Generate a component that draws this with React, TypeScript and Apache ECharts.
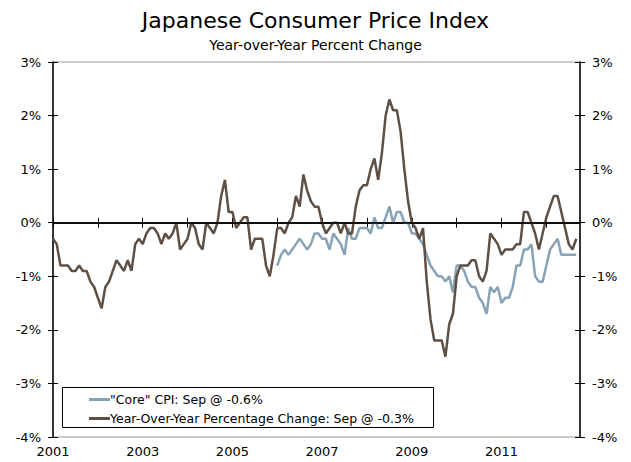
import React, { useEffect, useRef } from "react";
import * as echarts from "echarts";

const FONT = "'DejaVu Sans', Verdana, sans-serif";

const years = [2001, 2002, 2003, 2004, 2005, 2006, 2007, 2008, 2009, 2010, 2011, 2012];
const months = ["01", "02", "03", "04", "05", "06", "07", "08", "09", "10", "11", "12"];
const lastMonth = "2012-10";
const coreStart = "2006-01";

// Year-over-year headline CPI, Jan 2001 - Sep 2012 (%)
const yoyValues = [
  -0.3, -0.4, -0.8, -0.8, -0.8, -0.9, -0.9, -0.8, -0.9, -0.9, -1.1, -1.2,
  -1.4, -1.6, -1.2, -1.1, -0.9, -0.7, -0.8, -0.9, -0.7, -0.9, -0.4, -0.3,
  -0.4, -0.2, -0.1, -0.1, -0.2, -0.4, -0.2, -0.3, -0.2, 0.0, -0.5, -0.4,
  -0.3, 0.0, -0.1, -0.4, -0.5, 0.0, -0.1, -0.2, 0.0, 0.5, 0.8, 0.2,
  0.2, -0.1, 0.0, 0.1, 0.1, -0.5, -0.3, -0.3, -0.3, -0.8, -1.0, -0.6,
  -0.1, -0.1, -0.2, 0.0, 0.1, 0.5, 0.3, 0.9, 0.6, 0.4, 0.3, 0.3,
  0.0, -0.2, -0.1, 0.0, 0.0, -0.2, 0.0, -0.2, -0.2, 0.3, 0.6, 0.7,
  0.7, 1.0, 1.2, 0.8, 1.3, 2.0, 2.3, 2.1, 2.1, 1.7, 1.0, 0.4,
  0.0, -0.1, -0.3, -0.1, -1.1, -1.8, -2.2, -2.2, -2.2, -2.5, -1.9, -1.7,
  -1.0, -0.8, -0.8, -0.8, -0.7, -0.7, -1.0, -1.1, -0.9, -0.2, -0.3, -0.4,
  -0.6, -0.5, -0.5, -0.5, -0.4, -0.4, 0.2, 0.2, 0.0, -0.2, -0.5, -0.2,
  0.1, 0.3, 0.5, 0.5, 0.2, -0.1, -0.4, -0.5, -0.3,
];

// "Core" CPI, Jan 2006 - Sep 2012 (%)
const coreValues = [
  -0.8, -0.6, -0.5, -0.6, -0.5, -0.4, -0.3, -0.4, -0.5, -0.4, -0.2, -0.2,
  -0.3, -0.3, -0.5, -0.2, -0.3, -0.4, -0.6, -0.1, -0.3, -0.3, -0.1, -0.1,
  -0.1, -0.2, 0.1, -0.1, -0.1, 0.1, 0.3, 0.0, 0.2, 0.2, 0.0, 0.0,
  -0.2, -0.2, -0.3, -0.4, -0.6, -0.8, -0.9, -1.0, -1.0, -1.1, -1.0, -1.3,
  -0.8, -0.8, -0.9, -1.1, -1.2, -1.2, -1.4, -1.5, -1.7, -1.2, -1.3, -1.2,
  -1.5, -1.4, -1.4, -1.2, -0.8, -0.8, -0.5, -0.5, -0.4, -1.0, -1.1, -1.1,
  -0.8, -0.5, -0.4, -0.3, -0.6, -0.6, -0.6, -0.6, -0.6,
];

const seriesNames = [
  '"Core" CPI: Sep @ -0.6%',
  "Year-Over-Year Percentage Change: Sep @ -0.3%",
];
const seriesColors = ["#87A3B5", "#5E5045"];

const chartTitle = "Japanese Consumer Price Index";
const chartSubtitle = "Year-over-Year Percent Change";

export default function App() {
  const ref = useRef<HTMLDivElement>(null);

  useEffect(() => {
    document.body.style.margin = "0";
    if (!ref.current) return;
    const chart = echarts.init(ref.current, undefined, { renderer: "svg" });

    const categories: string[] = [];
    for (const y of years) {
      for (const m of months) {
        const c = `${y}-${m}`;
        if (c > lastMonth) break;
        categories.push(c);
      }
    }
    const coreOffset = categories.indexOf(coreStart);
    const coreData = categories.map((_, i) =>
      i >= coreOffset && i - coreOffset < coreValues.length ? coreValues[i - coreOffset] : null
    );
    const yoyData = categories.map((_, i) => (i < yoyValues.length ? yoyValues[i] : null));

    const yBase = { type: "value", min: -4, max: 3, interval: 1, splitLine: { show: false } };
    const tickStyle = { color: "#000", width: 1 };
    const labelStyle = { fontFamily: FONT, fontSize: 13, color: "#000" };

    const xBase = {
      type: "category",
      data: categories,
      boundaryGap: false,
      position: "bottom",
      splitLine: { show: false },
    };

    chart.setOption({
      animation: false,
      backgroundColor: "#fff",
      title: [
        {
          text: chartTitle,
          left: "center",
          top: 4,
          textStyle: { fontFamily: FONT, fontSize: 22, fontWeight: "normal", color: "#000" },
        },
        {
          text: chartSubtitle,
          left: "center",
          top: 33,
          textStyle: { fontFamily: FONT, fontSize: 14, fontWeight: "normal", color: "#000" },
        },
      ],
      grid: {
        left: 53,
        right: 51,
        top: 62,
        bottom: 25,
        show: true,
        borderColor: "#999",
        borderWidth: 1,
      },
      legend: {
        orient: "vertical",
        left: 84,
        top: 388,
        itemWidth: 21,
        itemHeight: 3,
        itemGap: 6,
        icon: "rect",
        z: 10,
        textStyle: { fontFamily: FONT, fontSize: 12.5, color: "#000", padding: [0, 0, 0, -5] },
        data: seriesNames,
      },
      graphic: [
        {
          type: "rect",
          left: 62,
          top: 387,
          z: 5,
          shape: { width: 371, height: 40 },
          style: { fill: "#fff", stroke: "#000", lineWidth: 1 },
        },
      ],
      xAxis: [
        {
          ...xBase,
          axisLine: { show: true, lineStyle: { color: "#000", width: 1.5 } },
          axisTick: { show: true, interval: 11, length: 5, lineStyle: tickStyle },
          axisLabel: {
            ...labelStyle,
            interval: 23,
            margin: 8,
            formatter: (v: string) => v.slice(0, 4),
          },
        },
        {
          ...xBase,
          axisLine: { show: false },
          axisTick: { show: true, inside: true, interval: 11, length: 5, lineStyle: tickStyle },
          axisLabel: { show: false },
        },
      ],
      yAxis: [
        {
          ...yBase,
          position: "left",
          axisLine: { show: true, lineStyle: { color: "#000", width: 1.5 } },
          axisTick: { show: true, length: 5, lineStyle: tickStyle },
          axisLabel: { ...labelStyle, margin: 12, formatter: "{value}%" },
        },
        {
          ...yBase,
          position: "left",
          axisLine: { show: false },
          axisTick: { show: true, inside: true, length: 5, lineStyle: tickStyle },
          axisLabel: { show: false },
        },
        {
          ...yBase,
          position: "right",
          axisLine: { show: true, lineStyle: { color: "#000", width: 1.5 } },
          axisTick: { show: true, length: 5, lineStyle: tickStyle },
          axisLabel: { ...labelStyle, margin: 12, formatter: "{value}%" },
        },
        {
          ...yBase,
          position: "right",
          axisLine: { show: false },
          axisTick: { show: true, inside: true, length: 5, lineStyle: tickStyle },
          axisLabel: { show: false },
        },
      ],
      series: [
        {
          name: seriesNames[0],
          type: "line",
          data: coreData,
          symbol: "none",
          showSymbol: false,
          lineStyle: { color: seriesColors[0], width: 2.5 },
          itemStyle: { color: seriesColors[0] },
          z: 3,
        },
        {
          name: seriesNames[1],
          type: "line",
          data: yoyData,
          symbol: "none",
          showSymbol: false,
          lineStyle: { color: seriesColors[1], width: 2.5 },
          itemStyle: { color: seriesColors[1] },
          z: 4,
          markLine: {
            silent: true,
            symbol: "none",
            label: { show: false },
            lineStyle: { color: "#000", width: 1.5, type: "solid" },
            data: [{ yAxis: 0 }],
          },
        },
      ],
    });

    return () => chart.dispose();
  }, []);

  return <div ref={ref} style={{ width: 631, height: 462 }} />;
}
